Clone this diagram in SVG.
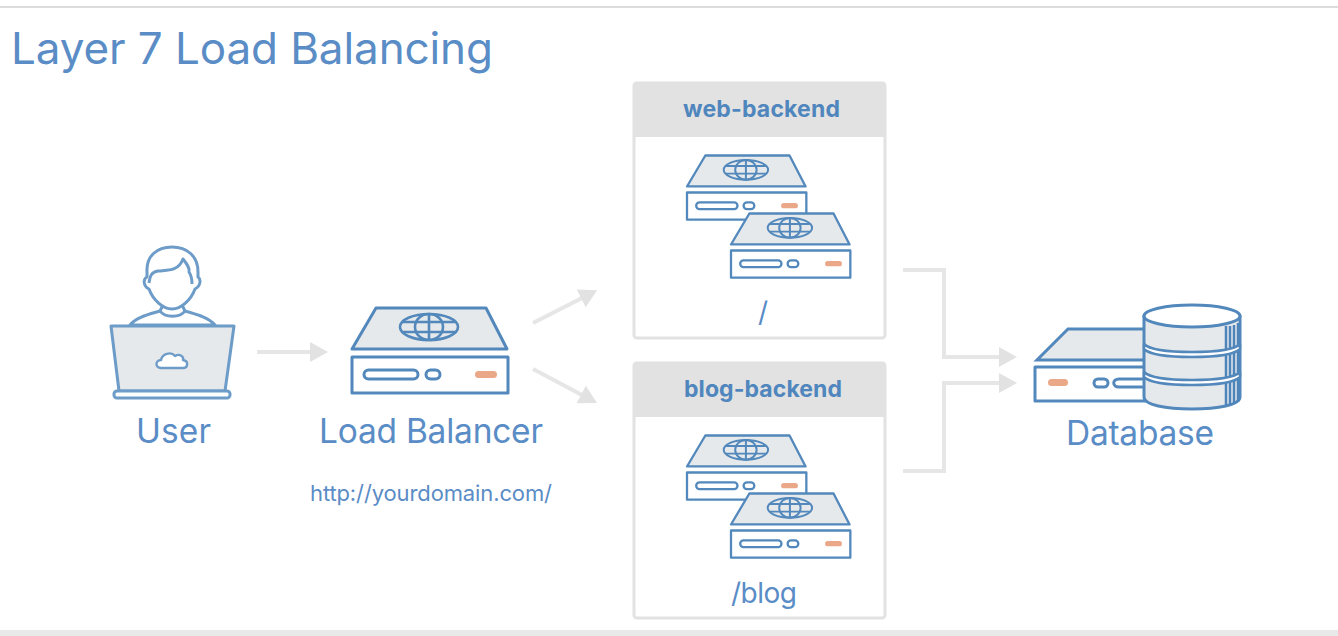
<svg xmlns="http://www.w3.org/2000/svg" xmlns:xlink="http://www.w3.org/1999/xlink" width="1338" height="636" viewBox="0 0 1338 636">
<style>
text{font-family:"Inter","Open Sans","Liberation Sans",sans-serif;fill:#5a8cc6;text-anchor:middle}
.title{font-size:44px;text-anchor:start;fill:#5a8cc6}
.lbl{font-size:33.500px}
.url{font-size:22px}
.hdr{font-size:23px;font-weight:700;fill:#4f86bd}
.path{font-size:28px}
.ln{fill:none;stroke:#5288bb;stroke-width:3;stroke-linejoin:round;stroke-linecap:round}
.g{fill:#e6e9eb;stroke:#5288bb;stroke-width:3;stroke-linejoin:round}
.w{fill:#fff;stroke:#5288bb;stroke-width:3;stroke-linejoin:round}
.o{fill:#eaa888}
.box{fill:#fff;stroke:#e2e2e2;stroke-width:3}
.conn{fill:none;stroke:#e6e6e6;stroke-width:4}
.lt{fill:#e6e9eb;stroke:#6d9cc8;stroke-width:3;stroke-linejoin:round}
.lw{fill:#fff;stroke:#6d9cc8;stroke-width:3;stroke-linejoin:round}
</style>
<defs>
<marker id="ah" markerUnits="userSpaceOnUse" markerWidth="20" markerHeight="22" refX="1" refY="11" orient="auto"><path d="M0 1L18 11L0 21Z" fill="#e2e2e2"/></marker>
<g id="globe" fill="none" stroke="#5288bb" stroke-width="2.6">
<ellipse cx="429" cy="327" rx="29" ry="13"/>
<ellipse cx="429" cy="327" rx="14" ry="13"/>
<path d="M429 314V340M403 322H455M403 332H455"/>
</g>
<g id="srv">
<path class="g" d="M376 308H486L507 349H352Z"/>
<use xlink:href="#globe"/>
<rect class="w" x="352" y="357" width="156" height="36"/>
<rect class="w" x="364" y="370" width="54" height="9" rx="4.5"/>
<rect class="w" x="426" y="370" width="14" height="9" rx="4.5"/>
<rect class="o" x="475" y="371" width="22" height="7" rx="3.5"/>
</g>
</defs>
<rect width="1338" height="636" fill="#fff"/>
<rect x="0" y="6" width="1338" height="2" fill="#dcdcdc"/>
<rect x="0" y="630" width="1338" height="6" fill="#e9e9e9"/>
<text class="title" x="11" y="64" textLength="482">Layer 7 Load Balancing</text>

<g id="connectors">
<path class="conn" d="M257 352H311" marker-end="url(#ah)"/>
<path class="conn" d="M533 323L582 298" marker-end="url(#ah)"/>
<path class="conn" d="M533 369L582 395" marker-end="url(#ah)"/>
<path class="conn" d="M903 270H944V357H1000" marker-end="url(#ah)"/>
<path class="conn" d="M903 471H944V383H1000" marker-end="url(#ah)"/>
</g>

<g id="user">
<path class="lw" d="M130 325C136 317 150 314 160 311L164 303H181L185 311C195 314 208 317 215 325Z"/>
<path class="lw" d="M160 311C165 318 180 318 185 311"/>
<path class="lw" d="M147 272C146 256 157 247 172 247C187 247 198 256 198 272L198 277C201 279 201 286 195 289C191 300 181 309 172 309C163 309 153 300 149 289C143 286 143 279 147 277Z"/>
<path class="lw" style="fill:none" d="M149 283C150 275 152 272 158 271C167 270 178 272 183 259C187 264 190 268 189 272C191 275 192 278 192 284"/>
<path class="lt" d="M111 326H234L225 391H119Z"/>
<rect class="lw" x="114" y="391" width="116" height="7" rx="3"/>
<path class="lw" style="stroke-width:2.4" d="M161 368C155 368 155 360 161 360C162 354 171 351 175 356C180 353 184 357 183 360C189 361 188 368 183 368Z"/>
<text class="lbl" x="173.500" y="443" textLength="75">User</text>
</g>

<g id="load-balancer">
<use xlink:href="#srv"/>
<text class="lbl" x="431" y="443" textLength="224">Load Balancer</text>
<text class="url" x="431" y="501" textLength="242">http://yourdomain.com/</text>
</g>

<g id="web-backend">
<rect class="box" x="634" y="83" width="251" height="255" rx="3"/>
<path fill="#e2e2e2" d="M633 137V85Q633 82 636 82H883Q886 82 886 85V137Z"/>
<text class="hdr" x="761.500" y="117" textLength="157">web-backend</text>
<use xlink:href="#srv" transform="translate(687 155.500) scale(.765 .755) translate(-352 -308)"/>
<use xlink:href="#srv" transform="translate(731 213.500) scale(.765 .755) translate(-352 -308)"/>
<text class="path" x="763" y="322">/</text>
</g>

<g id="blog-backend">
<rect class="box" x="634" y="363" width="251" height="255" rx="3"/>
<path fill="#e2e2e2" d="M633 417V365Q633 362 636 362H883Q886 362 886 365V417Z"/>
<text class="hdr" x="763" y="397" textLength="158">blog-backend</text>
<use xlink:href="#srv" transform="translate(687 435.500) scale(.765 .755) translate(-352 -308)"/>
<use xlink:href="#srv" transform="translate(731 493.500) scale(.765 .755) translate(-352 -308)"/>
<text class="path" x="764" y="603" textLength="66">/blog</text>
</g>

<g id="database">
<path class="g" d="M1150 329H1068L1037 360H1150Z" style="stroke-linejoin:miter"/>
<rect class="w" x="1035" y="367" width="115" height="34"/>
<rect class="o" x="1048" y="379" width="20" height="7" rx="3.5"/>
<rect class="w" x="1094" y="379" width="14" height="8" rx="4"/>
<path class="ln" d="M1142 379H1119C1112 379 1112 387 1119 387H1142"/>
<path class="g" d="M1144 316V397C1144 405 1166 409 1192 409C1218 409 1240 405 1240 397V316Z"/>
<path d="M1226 326V405M1230 326V405M1234 325V404M1238 323V402" stroke="#4d84ba" stroke-width="2.500" fill="none"/>
<path class="w" style="stroke-width:2.5" d="M1144 344C1150 350 1166 352 1192 352C1218 352 1234 350 1240 344V349C1234 355 1218 357 1192 357C1166 357 1150 355 1144 349Z"/>
<path class="w" style="stroke-width:2.5" d="M1144 372C1150 378 1166 380 1192 380C1218 380 1234 378 1240 372V377C1234 383 1218 385 1192 385C1166 385 1150 383 1144 377Z"/>
<ellipse class="w" cx="1192" cy="316" rx="48" ry="11"/>
<text class="lbl" x="1140" y="445" textLength="148">Database</text>
</g>
</svg>
